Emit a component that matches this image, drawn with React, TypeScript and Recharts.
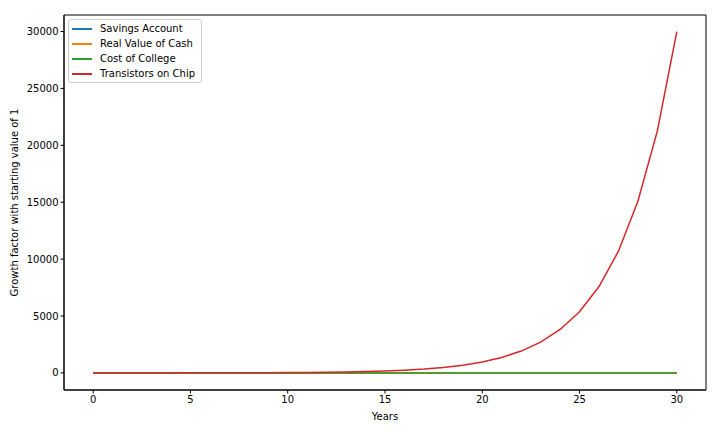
import React from "react";
import { LineChart, Line, XAxis, YAxis, ReferenceArea } from "recharts";

const years = [
  0, 1, 2, 3, 4, 5, 6, 7, 8, 9, 10, 11, 12, 13, 14, 15, 16, 17, 18, 19, 20, 21, 22, 23, 24, 25, 26, 27, 28, 29, 30,
];
const savingsAccount = [
  1.0, 1.02, 1.04, 1.06, 1.08, 1.1, 1.13, 1.15, 1.17, 1.2, 1.22, 1.24, 1.27, 1.29, 1.32, 1.35, 1.37, 1.4, 1.43,
  1.46, 1.49, 1.52, 1.55, 1.58, 1.61, 1.64, 1.67, 1.71, 1.74, 1.78, 1.81,
];
const realValueOfCash = [
  1.0, 0.97, 0.94, 0.91, 0.89, 0.86, 0.83, 0.81, 0.78, 0.76, 0.74, 0.72, 0.69, 0.67, 0.65, 0.63, 0.61, 0.6, 0.58,
  0.56, 0.54, 0.53, 0.51, 0.5, 0.48, 0.47, 0.45, 0.44, 0.43, 0.41, 0.4,
];
const costOfCollege = [
  1.0, 1.05, 1.1, 1.16, 1.22, 1.28, 1.34, 1.41, 1.48, 1.55, 1.63, 1.71, 1.8, 1.89, 1.98, 2.08, 2.18, 2.29, 2.41,
  2.53, 2.65, 2.79, 2.93, 3.07, 3.23, 3.39, 3.56, 3.73, 3.92, 4.12, 4.32,
];
const transistorsOnChip = [
  1, 1.41, 1.99, 2.8, 3.95, 5.57, 7.86, 11.1, 15.6, 22.0, 31.1, 43.8, 61.8, 87.1, 122.8, 173, 244, 344, 486, 685,
  965, 1361, 1920, 2707, 3816, 5381, 7588, 10699, 15085, 21270, 29990,
];

const seriesNames = ["Savings Account", "Real Value of Cash", "Cost of College", "Transistors on Chip"];
const seriesColors = ["#1f77b4", "#ff7f0e", "#2ca02c", "#d62728"];
const xTicks = [0, 5, 10, 15, 20, 25, 30];
const yTicks = [0, 5000, 10000, 15000, 20000, 25000, 30000];

const data = years.map((y, i) => ({
  year: y,
  s0: savingsAccount[i],
  s1: realValueOfCash[i],
  s2: costOfCollege[i],
  s3: transistorsOnChip[i],
}));

const FONT = "'DejaVu Sans', sans-serif";
const X_DOMAIN: [number, number] = [-1.5, 31.5];
const Y_DOMAIN: [number, number] = [-1500, 31450];

// matplotlib-style legend box, upper left inside the axes
const LegendBox = () => (
  <div
    style={{
      position: "absolute",
      left: 68,
      top: 19,
      border: "1px solid #cccccc",
      borderRadius: 3,
      background: "rgba(255,255,255,0.8)",
      width: 134,
      height: 64,
      boxSizing: "border-box",
      padding: "1px 0 0 0",
      fontFamily: FONT,
      fontSize: 10,
      lineHeight: "15px",
      color: "#000",
    }}
  >
    {seriesNames.map((name, i) => (
      <div key={name} style={{ display: "flex", alignItems: "center", height: 15 }}>
        <div style={{ width: 20, height: 2, background: seriesColors[i], marginLeft: 3, marginRight: 8 }} />
        <span style={{ whiteSpace: "nowrap" }}>{name}</span>
      </div>
    ))}
  </div>
);

export default function App() {
  return (
    <div style={{ position: "absolute", left: 0, top: 0, width: 720, height: 432, background: "#fff" }}>
      <LineChart width={720} height={432} data={data} margin={{ top: 15, right: 14, bottom: 0, left: 0 }}>
        <XAxis
          dataKey="year"
          type="number"
          domain={X_DOMAIN}
          ticks={xTicks}
          allowDataOverflow
          height={42}
          tickSize={3.5}
          tickMargin={2}
          stroke="#000"
          tick={{ fill: "#000", fontSize: 10, fontFamily: FONT }}
          label={{ value: "Years", position: "insideBottom", offset: 12, fill: "#000", fontSize: 10, fontFamily: FONT }}
        />
        <YAxis
          type="number"
          domain={Y_DOMAIN}
          ticks={yTicks}
          allowDataOverflow
          width={64}
          tickSize={3.5}
          tickMargin={2}
          stroke="#000"
          tick={{ fill: "#000", fontSize: 10, fontFamily: FONT }}
          label={{
            value: "Growth factor with starting value of 1",
            angle: -90,
            position: "insideLeft",
            offset: 14,
            style: { textAnchor: "middle" },
            fill: "#000",
            fontSize: 10,
            fontFamily: FONT,
          }}
        />
        <ReferenceArea
          x1={X_DOMAIN[0]}
          x2={X_DOMAIN[1]}
          y1={Y_DOMAIN[0]}
          y2={Y_DOMAIN[1]}
          fill="none"
          stroke="#000"
          strokeWidth={1}
          ifOverflow="visible"
        />
        {seriesNames.map((name, i) => (
          <Line
            key={name}
            name={name}
            dataKey={`s${i}`}
            stroke={seriesColors[i]}
            strokeWidth={1.5}
            dot={false}
            type="linear"
            isAnimationActive={false}
          />
        ))}
      </LineChart>
      <LegendBox />
    </div>
  );
}
